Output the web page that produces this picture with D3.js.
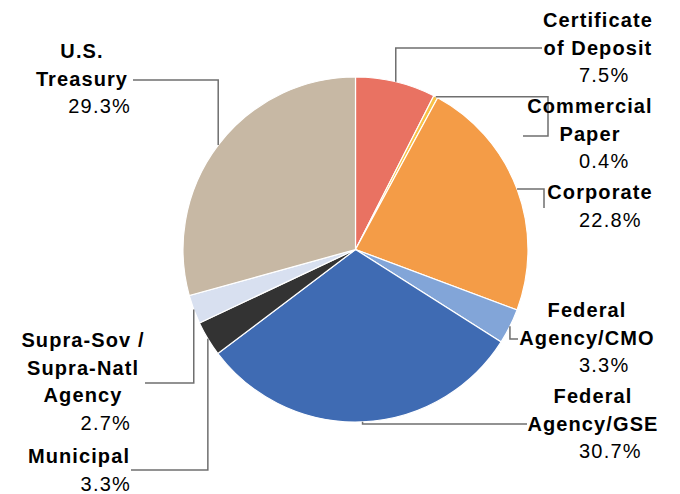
<!DOCTYPE html>
<html lang="en">
<head>
    <meta charset="UTF-8">
    <title>Portfolio Allocation</title>
    <script src="https://cdn.jsdelivr.net/npm/d3@7/dist/d3.min.js"></script>
    <style>
        body { margin: 0; background: #fff; }
        .name { font-family: "Liberation Sans", Arial, sans-serif; font-weight: bold; font-size: 20px; letter-spacing: 1.1px; fill: #000; }
        .pct { font-family: "Liberation Sans", Arial, sans-serif; font-size: 20px; letter-spacing: 1.2px; fill: #000; }
        .leader { fill: none; stroke: #6f6f6f; stroke-width: 1.5; }
    </style>
</head>
<body>
    <svg width="680" height="494"></svg>

    <script>
        // sectors, clockwise from 12 o'clock
        var sectors = ["Certificate of Deposit", "Commercial Paper", "Corporate", "Federal Agency/CMO",
                       "Federal Agency/GSE", "Municipal", "Supra-Sov / Supra-Natl Agency", "U.S. Treasury"];
        var shares = [7.5, 0.4, 22.8, 3.3, 30.7, 3.3, 2.7, 29.3];
        var colors = ["#e97262", "#f8c146", "#f49c47", "#82a5d8", "#3f6bb3", "#333333", "#d8e0f0", "#c7b8a4"];

        // label text lines
        var labelLines = [
            ["Certificate", "of Deposit"],
            ["Commercial", "Paper"],
            ["Corporate"],
            ["Federal", "Agency/CMO"],
            ["Federal", "Agency/GSE"],
            ["Municipal"],
            ["Supra-Sov /", "Supra-Natl", "Agency"],
            ["U.S.", "Treasury"]
        ];

        var svg = d3.select("svg");
        var cx = 355.5, cy = 249.5, r = 172.5;

        var pie = d3.pie().sort(null).value(d => d)
            .startAngle(0).endAngle(2 * Math.PI);
        var arcs = pie(shares);
        var arc = d3.arc().innerRadius(0).outerRadius(r);
        var edge = d3.arc().innerRadius(r).outerRadius(r);

        var g = svg.append("g").attr("transform", "translate(" + cx + "," + cy + ")");

        g.selectAll("path.slice")
            .data(arcs)
          .enter().append("path")
            .attr("class", "slice")
            .attr("d", arc)
            .attr("fill", (d, i) => colors[i])
            .attr("stroke", "#fff")
            .attr("stroke-width", 1.2);

        // label placement: x centre of name lines, first baseline, pct anchor side
        var labelX = [598, 590, 600, 587, 593, 79, 83, 82];
        var labelY = [27, 113, 199, 317, 403, 463, 347, 58];
        var pctSide = ["start", "start", "start", "start", "start", "end", "end", "end"];
        var pctX = [579, 579, 579, 579, 579, 131, 131, 131];
        var lineH = 27.5;

        // leader elbows: route from slice edge
        var leaderRoute = [
            [["v", 48], ["h", 542]],
            [["h", 548], ["v", 136], ["h", 523]],
            [["h", 544], ["v", 208]],
            [["v", 339], ["h", 518]],
            [["v", 424], ["h", 527]],
            [["v", 470], ["h", 131]],
            [["v", 383], ["h", 145]],
            [["v", 80], ["h", 133]]
        ];

        arcs.forEach(function(a, i) {
            var p = edge.centroid(a);
            var x = p[0] + cx, y = p[1] + cy;
            var pts = [[x, y]];
            leaderRoute[i].forEach(function(s) {
                if (s[0] === "v") y = s[1]; else x = s[1];
                pts.push([x, y]);
            });
            svg.append("path").attr("class", "leader").attr("d", d3.line()(pts));

            var lines = labelLines[i];
            lines.forEach(function(t, k) {
                svg.append("text").attr("class", "name")
                    .attr("x", labelX[i]).attr("y", labelY[i] + k * lineH)
                    .attr("text-anchor", "middle")
                    .text(t);
            });
            svg.append("text").attr("class", "pct")
                .attr("x", pctX[i]).attr("y", labelY[i] + lines.length * lineH)
                .attr("text-anchor", pctSide[i])
                .text(shares[i].toFixed(1) + "%");
        });
    </script>
</body>
</html>
